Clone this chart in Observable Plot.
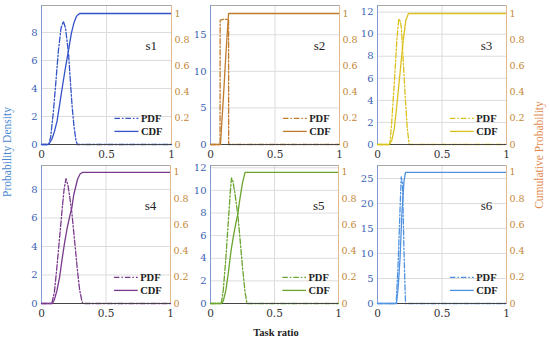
<!DOCTYPE html>
<html><head><meta charset="utf-8">
<script src="https://cdn.jsdelivr.net/npm/d3@7"></script>
<script src="https://cdn.jsdelivr.net/npm/@observablehq/plot@0.6"></script>
<style>
body{margin:0;background:#fff;}
#chart{position:relative;width:550px;height:343px;background:#fff;overflow:hidden;}
#chart svg{position:absolute;overflow:visible;background:transparent;}
.ttl{position:absolute;font-family:"Liberation Serif",serif;white-space:nowrap;line-height:1;}
</style></head><body>
<div id="chart"></div>
<script>
// ---- data ----
const seriesNames = ["s1","s2","s3","s4","s5","s6"];
const seriesColors = ["#3352c8","#c07a2c","#dcc11e","#7a3a8c","#6aa42c","#4f92e2"];
const legendLabels = ["PDF","CDF"];
const xTicks = [0, 0.5, 1];
const cdfTicks = [0, 0.2, 0.4, 0.6, 0.8, 1];
const pdfTicks = [[0,2,4,6,8],[0,5,10,15],[0,2,4,6,8,10,12],[0,2,4,6,8],[0,2,4,6,8,10,12],[0,5,10,15,20,25]];
const pdfMax = [9.93, 19, 12.6, 9.68, 12.2, 27.6];

const s1PdfX = [0,0.055,0.07,0.09,0.11,0.13,0.15,0.168,0.185,0.208,0.22,0.235,0.25,0.265,0.275,1];
const s1Pdf  = [0,0,0.5,2.2,4.4,6.7,8.3,8.8,8.3,6.5,4.8,2.8,1.3,0.3,0,0];
const s1CdfX = [0,0.055,0.08,0.1,0.12,0.145,0.17,0.19,0.208,0.23,0.25,0.27,0.29,0.3,1];
const s1Cdf  = [0,0,0.04,0.1,0.18,0.34,0.5,0.62,0.72,0.85,0.93,0.98,0.998,1,1];

const s2PdfX = [0,0.074,0.075,0.1,0.14,0.141,1];
const s2Pdf  = [0,0,17.0,17.1,17.1,0,0];
const s2CdfX = [0,0.077,0.1,0.12,0.14,1];
const s2Cdf  = [0,0,0.36,0.7,1,1];

const s3PdfX = [0,0.095,0.11,0.13,0.15,0.165,0.175,0.185,0.2,0.215,0.23,0.245,1];
const s3Pdf  = [0,0,2.0,5.5,9.5,11.4,11.2,10.6,7.5,4.3,1.6,0,0];
const s3CdfX = [0,0.09,0.11,0.13,0.15,0.165,0.18,0.2,0.22,0.24,1];
const s3Cdf  = [0,0,0.03,0.12,0.3,0.45,0.6,0.8,0.95,1,1];

const s4PdfX = [0,0.08,0.1,0.12,0.14,0.16,0.175,0.19,0.205,0.22,0.235,0.25,0.265,0.28,0.295,0.31,0.32,1];
const s4Pdf  = [0,0,0.8,2.6,4.6,6.6,8.0,8.75,8.3,7.4,6.4,5.0,3.6,2.2,1.0,0.3,0,0];
const s4CdfX = [0,0.085,0.1,0.12,0.14,0.16,0.18,0.2,0.22,0.235,0.25,0.28,0.3,0.32,1];
const s4Cdf  = [0,0,0.03,0.1,0.2,0.34,0.47,0.58,0.67,0.73,0.83,0.95,0.99,1,1];

const s5PdfX = [0,0.084,0.1,0.12,0.14,0.155,0.164,0.175,0.19,0.213,0.23,0.25,0.27,0.285,1];
const s5Pdf  = [0,0,1.2,4.0,7.4,9.9,11.1,10.8,9.8,7.9,5.8,3.2,1.0,0,0];
const s5CdfX = [0,0.085,0.1,0.12,0.14,0.16,0.18,0.2,0.213,0.23,0.25,0.27,1];
const s5Cdf  = [0,0,0.02,0.1,0.24,0.4,0.52,0.62,0.68,0.8,0.92,1,1];

const s6PdfX = [0,0.145,0.16,0.175,0.184,0.194,0.205,0.217,1];
const s6Pdf  = [0,0,8,19,25.3,24,11,0,0];
const s6CdfX = [0,0.147,0.16,0.175,0.19,0.205,0.217,1];
const s6Cdf  = [0,0,0.12,0.35,0.7,0.93,1,1];

const pdfXs = [s1PdfX,s2PdfX,s3PdfX,s4PdfX,s5PdfX,s6PdfX];
const pdfYs = [s1Pdf,s2Pdf,s3Pdf,s4Pdf,s5Pdf,s6Pdf];
const cdfXs = [s1CdfX,s2CdfX,s3CdfX,s4CdfX,s5CdfX,s6CdfX];
const cdfYs = [s1Cdf,s2Cdf,s3Cdf,s4Cdf,s5Cdf,s6Cdf];

// ---- layout ----
const frames = [
  {x0:41,x1:171,y0:5,y1:144},{x0:210,x1:339,y0:5,y1:144},{x0:377,x1:506,y0:5,y1:144},
  {x0:41,x1:170,y0:165,y1:303},{x0:210,x1:338,y0:165,y1:303},{x0:377,x1:506,y0:165,y1:303}
];
const cdfTop = [1.061,1.061,1.061,1.053,1.053,1.053];
const legendLayout = {x1:0.565, x2:0.75, textX:0.765, rows:[0.2,0.1]};
const dashDot = "5.5,2,1.5,2";
const leftTickColor = "#3d5fb5", rightTickColor = "#bf8835";
const leftLine = "#7f9bd0", rightLine = "#e2b98e";

const chart = document.getElementById("chart");
const M = {l:40, r:40, t:5, b:30};

frames.forEach((f, i) => {
  const fw = f.x1 - f.x0, fh = f.y1 - f.y0;
  const W = fw + M.l + M.r, H = fh + M.t + M.b;
  const color = seriesColors[i];
  const pdfData = pdfXs[i].map((x, j) => ({x, y: pdfYs[i][j]}));
  const cdfData = cdfXs[i].map((x, j) => ({x, y: cdfYs[i][j]}));
  const common = {width: W, height: H, marginLeft: M.l, marginRight: M.r, marginTop: M.t, marginBottom: M.b,
    style: {fontFamily: "DejaVu Serif", fontSize: "10.5px", background: "transparent", overflow: "visible"}};

  const a = Plot.plot({...common,
    x: {domain: [0, 1], label: null},
    y: {domain: [0, pdfMax[i]], label: null},
    marks: [
      Plot.gridX({ticks: [0.5], stroke: "#dcdcdc", strokeOpacity: 1}),
      Plot.gridY({ticks: pdfTicks[i], stroke: "#dcdcdc", strokeOpacity: 1}),
      Plot.frame({stroke: "#a8a8a8"}),
      Plot.line(pdfData, {x: "x", y: "y", stroke: color, strokeWidth: 1.3, strokeDasharray: dashDot}),
      Plot.ruleX([0], {stroke: leftLine, strokeWidth: 1}),
      Plot.ruleY([0], {stroke: "#444", strokeWidth: 1}),
      Plot.axisY({ticks: pdfTicks[i], anchor: "left", tickSize: 0, tickPadding: 4, fontSize: 10, color: leftTickColor, label: null, tickFormat: d => String(d)}),
      Plot.axisX({ticks: xTicks, tickSize: 0, tickPadding: 6, color: "#333", label: null, tickFormat: d => String(d)})
    ]});
  a.style.left = (f.x0 - M.l) + "px"; a.style.top = (f.y0 - M.t) + "px";
  chart.appendChild(a);

  const b = Plot.plot({...common,
    x: {domain: [0, 1], axis: null, label: null},
    y: {domain: [0, cdfTop[i]], label: null},
    marks: [
      Plot.line(cdfData, {x: "x", y: "y", stroke: color, strokeWidth: 1.3}),
      Plot.ruleX([1], {stroke: rightLine, strokeWidth: 1}),
      Plot.axisY({ticks: cdfTicks, anchor: "right", tickSize: 0, tickPadding: 3, fontSize: 9.5, color: rightTickColor, label: null, tickFormat: d => String(d)}),
      Plot.ruleY([legendLayout.rows[0]], {y: d => d, x1: () => legendLayout.x1, x2: () => legendLayout.x2, stroke: color, strokeWidth: 1.3, strokeDasharray: dashDot}),
      Plot.ruleY([legendLayout.rows[1]], {y: d => d, x1: () => legendLayout.x1, x2: () => legendLayout.x2, stroke: color, strokeWidth: 1.3}),
      Plot.text(legendLabels, {x: () => legendLayout.textX, y: (d, j) => legendLayout.rows[j], text: d => d, textAnchor: "start",
        fontFamily: "Liberation Serif", fontSize: 10.5, fontWeight: "bold", fill: "#222"}),
      Plot.text([seriesNames[i]], {frameAnchor: "top-left", dx: 0.8 * fw, dy: 35, text: d => d, textAnchor: "start",
        fontFamily: "Liberation Serif", fontSize: 13, fill: "#222"})
    ]});
  b.style.left = (f.x0 - M.l) + "px"; b.style.top = (f.y0 - M.t) + "px";
  chart.appendChild(b);
});

// axis titles
function addTitle(text, css) {
  const d = document.createElement("div");
  d.className = "ttl"; d.textContent = text;
  Object.assign(d.style, css);
  chart.appendChild(d);
}
addTitle("Probability Density", {left: "8px", top: "152px", fontSize: "11.5px", color: "#4a88d0", transform: "translate(-50%,-50%) rotate(-90deg)"});
addTitle("Cumulative Probability", {left: "540px", top: "155px", fontSize: "11.5px", color: "#e28a4e", transform: "translate(-50%,-50%) rotate(-90deg)"});
addTitle("Task ratio", {left: "276px", top: "333px", fontSize: "10.5px", fontWeight: "bold", color: "#222", transform: "translate(-50%,-50%)"});
</script>
</body></html>
